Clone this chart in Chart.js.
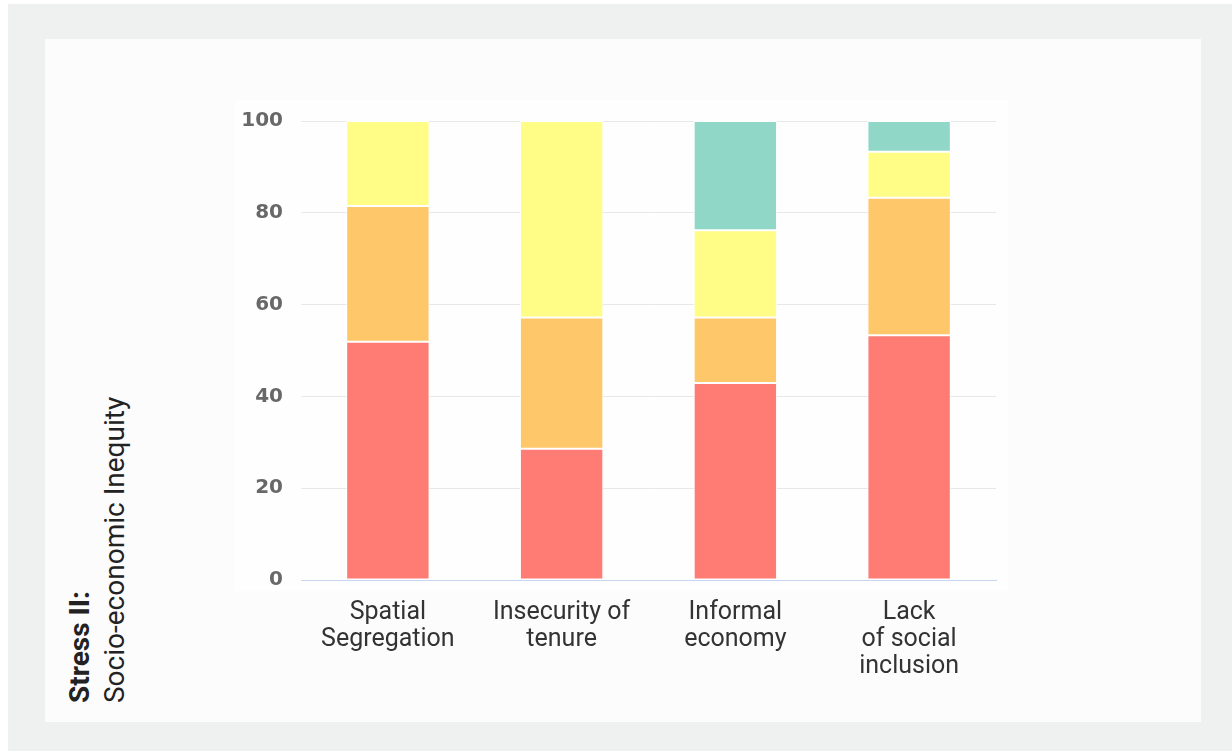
<!DOCTYPE html>
<html>
<head>
<meta charset="utf-8">
<script src="https://cdn.jsdelivr.net/npm/chart.js@4/dist/chart.umd.min.js"></script>
<style>
  html, body { margin: 0; padding: 0; background: #ffffff; }
  body { width: 1232px; height: 751px; position: relative; overflow: hidden; }
  #outer { position: absolute; left: 8px; top: 4px; right: 0; bottom: 0; background: #eff0f0; }
  #panel { position: absolute; left: 45px; top: 39px; width: 1156px; height: 683px; background: #fcfcfc; }
  #plotbg { position: absolute; left: 235px; top: 100px; width: 773px; height: 491px; background: #fefefe; }
  #title {
    position: absolute; left: 62px; top: 703px;
    transform: rotate(-90deg); transform-origin: left top;
    font-family: Roboto, sans-serif; font-size: 28px; line-height: 35px;
    color: #222; white-space: nowrap;
  }
  #chart { position: absolute; left: 0; top: 0; }
</style>
</head>
<body>
<div id="outer"></div>
<div id="panel"></div>
<div id="plotbg"></div>
<div id="title"><b>Stress II:</b><br>Socio-economic Inequity</div>
<canvas id="chart" width="1232" height="751"></canvas>
<script>
// カテゴリ（x軸ラベル）
var categories = [["Spatial", "Segregation"], ["Insecurity of", "tenure"], ["Informal", "economy"], ["Lack", "of social", "inclusion"]];

// 各系列の値（下から順に積み上げ）
var seriesRed = [51.9, 28.6, 42.9, 53.3];
var seriesOrange = [29.6, 28.6, 14.3, 30.0];
var seriesYellow = [18.5, 42.8, 19.0, 10.0];
var seriesTeal = [null, null, 23.8, 6.7];

// y軸の目盛り
var yTicks = [0, 20, 40, 60, 80, 100];

function makeSet(label, data, color) {
  return {
    label: label,
    data: data,
    backgroundColor: color,
    borderColor: "#ffffff",
    borderWidth: 1,
    borderSkipped: false,
    barPercentage: 0.48,
    categoryPercentage: 1.0
  };
}

var ctx = document.getElementById("chart");
var myChart = new Chart(ctx, {
  type: "bar",
  data: {
    labels: categories,
    datasets: [
      makeSet("Level 1", seriesRed, "#ff7c75"),
      makeSet("Level 2", seriesOrange, "#fdc76a"),
      makeSet("Level 3", seriesYellow, "#fffd86"),
      makeSet("Level 4", seriesTeal, "#90d7c8")
    ]
  },
  options: {
    responsive: false,
    devicePixelRatio: 1,
    animation: false,
    layout: {
      padding: { left: 200, right: 236, top: 121, bottom: 71 }
    },
    plugins: {
      legend: { display: false },
      tooltip: { enabled: false }
    },
    scales: {
      x: {
        stacked: true,
        grid: { display: false },
        border: { display: true, color: "#c8d5ef", width: 1 },
        ticks: {
          color: "#333333",
          padding: 11,
          maxRotation: 0,
          autoSkip: false,
          font: { family: "Roboto", size: 25, lineHeight: 1.08 }
        },
        afterFit: function (scale) { scale.height = 100; }
      },
      y: {
        stacked: true,
        min: 0,
        max: 100,
        afterBuildTicks: function (scale) {
          scale.ticks = yTicks.map(function (v) { return { value: v }; });
        },
        grid: { color: "#e8e8e8", lineWidth: 1, drawTicks: false },
        border: { display: false },
        ticks: {
          color: "#686868",
          padding: 18,
          font: { family: "DejaVu Sans", size: 20, weight: "bold" }
        },
        afterFit: function (scale) { scale.width = 101; }
      }
    }
  }
});
</script>
</body>
</html>
